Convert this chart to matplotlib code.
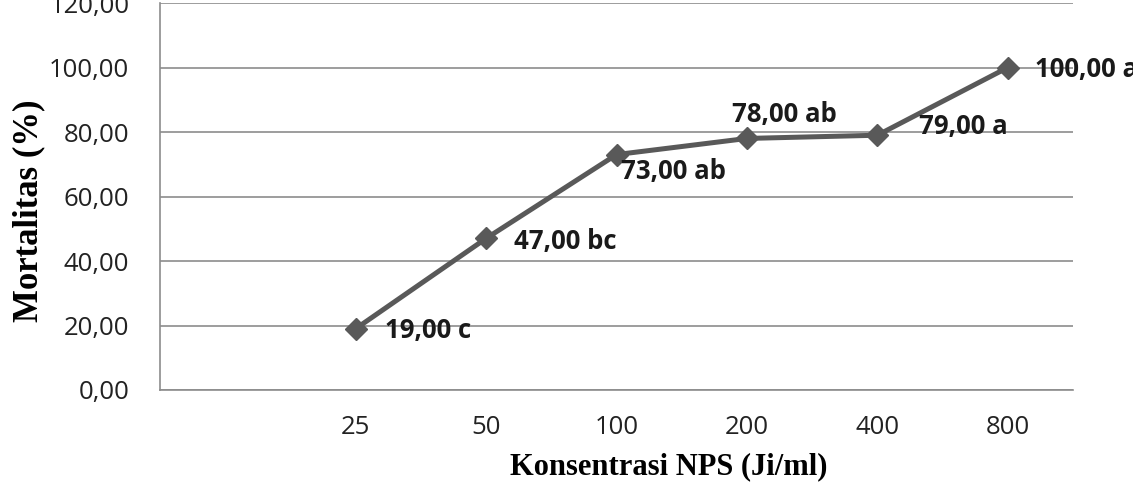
import matplotlib.pyplot as plt

konsentrasi = ["", "25", "50", "100", "200", "400", "800"]
mortalitas = [19.00, 47.00, 73.00, 78.00, 79.00, 100.00]
notasi = ["c", "bc", "ab", "ab", "a", "a"]
y_ticks = [0, 20, 40, 60, 80, 100, 120]

fig = plt.figure(figsize=(11.33, 4.98), dpi=100)
ax = fig.add_axes([160 / 1133, 1 - 390 / 498, 913 / 1133, 387 / 498])

x_pos = list(range(1, len(konsentrasi)))
ax.plot(x_pos, mortalitas, color='#595959', linewidth=3.6,
        marker='D', markersize=11.5, markerfacecolor='#595959',
        markeredgecolor='#595959', zorder=3)

# posisi label data (offset dalam poin), mirip excel
offsets = [(21, -1.5), (20, -2), (3, -12), (-11, 17), (30, 6), (19.5, -1.5)]
for x, y, n, off in zip(x_pos, mortalitas, notasi, offsets):
    ax.annotate(f"{y:.2f}".replace(".", ",") + " " + n, (x, y),
                xytext=off, textcoords='offset points',
                ha='left', va='center', fontsize=18.5, fontweight='bold',
                family='Open Sans', color='#1a1a1a', annotation_clip=False)

ax.set_xlim(-0.5, 6.5)
ax.set_ylim(0, 120)
ax.set_xticks(range(len(konsentrasi)))
ax.set_xticklabels(konsentrasi, family='Open Sans', fontsize=18.5, color='#222222')
ax.set_yticks(y_ticks)
ax.set_yticklabels([f"{v:.2f}".replace(".", ",") for v in y_ticks],
                   family='Open Sans', fontsize=18.5, color='#222222')
ax.tick_params(axis='y', length=0, pad=22)
ax.tick_params(axis='x', length=0, pad=18)

ax.grid(axis='y', color='#8c8c8c', linewidth=1.2)
ax.set_axisbelow(True)
for s in ['top', 'right']:
    ax.spines[s].set_visible(False)
for s in ['left', 'bottom']:
    ax.spines[s].set_color('#8c8c8c')
    ax.spines[s].set_linewidth(1.2)

fig.text(669 / 1133, 1 - 467 / 498, "Konsentrasi NPS (Ji/ml)", ha='center', va='center',
         family='Liberation Serif', fontweight='bold', fontsize=22)
fig.text(29 / 1133, 1 - 211 / 498, "Mortalitas (%)", ha='center', va='center', rotation=90,
         family='Liberation Serif', fontweight='bold', fontsize=25)

fig.savefig("out.png", dpi=100)
